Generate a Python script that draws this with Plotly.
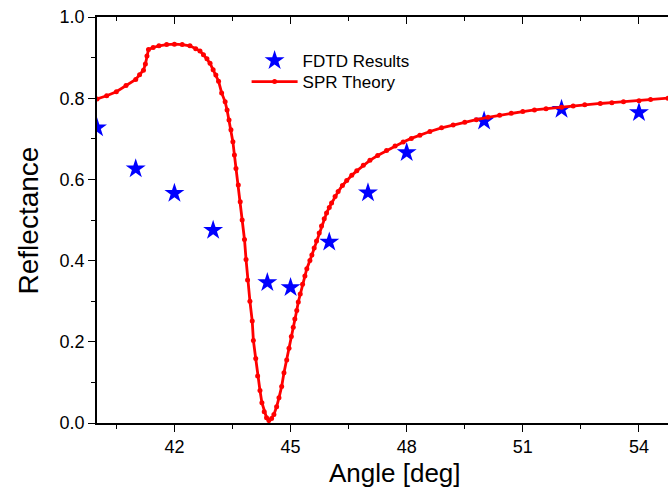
import plotly.graph_objects as go

# FDTD simulation results (angle in degrees, reflectance)
fdtd_angle = [40.0, 41.0, 42.0, 43.0, 44.4, 45.0, 46.0, 47.0, 48.0, 50.0, 52.0, 54.0]
fdtd_refl = [0.727, 0.626, 0.566, 0.475, 0.346, 0.334, 0.446, 0.567, 0.666, 0.744, 0.773, 0.765]

# SPR theory curve
spr_angle = [
    40.00, 40.25, 40.50, 40.75, 41.00, 41.10, 41.20, 41.25, 41.29, 41.33,
    41.45, 41.60, 41.80, 42.00, 42.20, 42.40, 42.55, 42.66, 42.75, 42.84,
    42.92, 43.00, 43.07, 43.14, 43.22, 43.31, 43.36, 43.41, 43.46, 43.51,
    43.55, 43.59, 43.65, 43.70, 43.75, 43.81, 43.85, 43.89, 43.95, 44.01,
    44.04, 44.10, 44.15, 44.21, 44.26, 44.32, 44.38, 44.44, 44.51, 44.57,
    44.64, 44.70, 44.77, 44.83, 44.90, 44.96, 45.02, 45.07, 45.11, 45.16,
    45.20, 45.25, 45.31, 45.37, 45.42, 45.50, 45.55, 45.61, 45.67, 45.74,
    45.80, 45.87, 45.93, 46.00, 46.06, 46.15, 46.23, 46.34, 46.45, 46.58,
    46.71, 46.88, 47.05, 47.25, 47.48, 47.70, 47.91, 48.12, 48.34, 48.60,
    48.90, 49.20, 49.50, 49.80, 50.10, 50.40, 50.70, 51.00, 51.30, 51.60,
    52.00, 52.30, 52.60, 53.00, 53.30, 53.60, 54.00, 54.30, 54.75,
]
spr_refl = [
    0.798, 0.806, 0.816, 0.831, 0.846, 0.858, 0.869, 0.884, 0.904, 0.920,
    0.925, 0.929, 0.932, 0.933, 0.932, 0.929, 0.922, 0.916, 0.907, 0.897,
    0.886, 0.870, 0.857, 0.842, 0.813, 0.791, 0.771, 0.746, 0.722, 0.693,
    0.660, 0.627, 0.586, 0.545, 0.500, 0.452, 0.403, 0.352, 0.300, 0.251,
    0.203, 0.159, 0.116, 0.080, 0.050, 0.028, 0.013, 0.006, 0.011, 0.021,
    0.040, 0.062, 0.090, 0.124, 0.155, 0.184, 0.213, 0.236, 0.256, 0.277,
    0.298, 0.318, 0.342, 0.362, 0.380, 0.400, 0.414, 0.431, 0.448, 0.468,
    0.485, 0.503, 0.517, 0.531, 0.542, 0.558, 0.570, 0.585, 0.597, 0.610,
    0.621, 0.635, 0.647, 0.659, 0.671, 0.682, 0.692, 0.701, 0.709, 0.718,
    0.727, 0.734, 0.741, 0.747, 0.753, 0.758, 0.763, 0.767, 0.771, 0.774,
    0.778, 0.781, 0.784, 0.787, 0.789, 0.791, 0.794, 0.797, 0.800,
]

FONT = "Arial, Liberation Sans, sans-serif"
X_RANGE = [40.0, 54.75]
Y_RANGE = [0.0, 1.0]

fig = go.Figure()

fig.add_trace(go.Scatter(
    x=fdtd_angle, y=fdtd_refl, mode="markers", name="FDTD Results",
    legend="legend",
    marker=dict(symbol="star", size=15, color="#0000FF", line=dict(width=0)),
))

fig.add_trace(go.Scatter(
    x=spr_angle, y=spr_refl, mode="lines+markers", name="SPR Theory",
    legend="legend2",
    line=dict(color="#FF0000", width=2.8),
    marker=dict(symbol="circle", size=5, color="#FF0000"),
))

# carrier for the top frame axis (nothing visible drawn)
fig.add_trace(go.Scatter(
    x=X_RANGE, y=Y_RANGE, xaxis="x2", mode="lines",
    line=dict(width=0), opacity=0, showlegend=False, hoverinfo="skip",
))

axis_common = dict(
    showgrid=False, zeroline=False, showline=True,
    linecolor="black", linewidth=1.6,
    tickcolor="black", tickwidth=1.4,
    tickfont=dict(family=FONT, size=18, color="black"),
)

x_ticks = dict(tickmode="linear", tick0=42, dtick=3, ticklen=7)
x_minor = dict(tickmode="linear", tick0=40.5, dtick=1.5, ticklen=4,
               tickcolor="black", tickwidth=1.4)

legend_common = dict(
    x=0.262, xanchor="left", yanchor="middle",
    bgcolor="rgba(0,0,0,0)", borderwidth=0,
    font=dict(family=FONT, size=17, color="black"),
    itemwidth=46,
)

fig.update_layout(
    width=668, height=490,
    margin=dict(l=97, r=0, t=17, b=67),
    paper_bgcolor="white", plot_bgcolor="white",
    font=dict(family=FONT, color="black"),
    xaxis=dict(range=X_RANGE, ticks="outside",
               minor=dict(ticks="outside", **x_minor),
               **x_ticks, **axis_common),
    xaxis2=dict(range=X_RANGE, overlaying="x", side="top", anchor="y",
                ticks="inside", showticklabels=False,
                minor=dict(ticks="inside", **x_minor),
                **x_ticks, **axis_common),
    yaxis=dict(range=Y_RANGE, tickmode="linear", tick0=0, dtick=0.2,
               tickformat=".1f", ticks="outside", ticklen=7,
               minor=dict(ticks="outside", tickmode="linear", tick0=0, dtick=0.1,
                          ticklen=4, tickcolor="black", tickwidth=1.4),
               **axis_common),
    legend=dict(y=0.8916, **legend_common),
    legend2=dict(y=0.8399, **legend_common),
    showlegend=True,
    annotations=[
        dict(text="Angle [deg]", xref="paper", yref="paper",
             x=0.522, y=-0.123, xanchor="center", yanchor="middle",
             showarrow=False, font=dict(family=FONT, size=26, color="black")),
        dict(text="Reflectance", xref="paper", yref="paper",
             x=-0.12, y=0.5, xanchor="center", yanchor="middle",
             textangle=-90, showarrow=False,
             font=dict(family=FONT, size=28, color="black")),
    ],
)

fig.write_html("out.html")
